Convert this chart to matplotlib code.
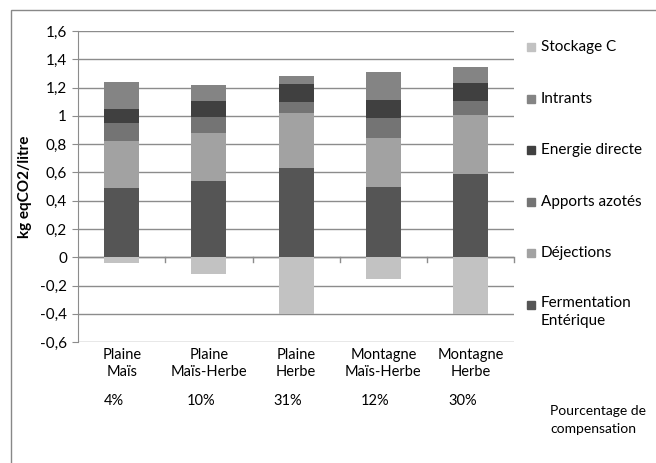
import matplotlib.pyplot as plt
import numpy as np
from matplotlib.patches import Rectangle
from matplotlib.ticker import FuncFormatter

plt.rcParams['font.family'] = ['Lato', 'DejaVu Sans']

categories = ['Plaine\nMaïs', 'Plaine\nMaïs-Herbe', 'Plaine\nHerbe', 'Montagne\nMaïs-Herbe', 'Montagne\nHerbe']
percentages = ['4%', '10%', '31%', '12%', '30%']

fermentation = [0.49, 0.54, 0.63, 0.50, 0.59]
dejections = [0.33, 0.34, 0.39, 0.345, 0.415]
apports = [0.13, 0.11, 0.08, 0.14, 0.10]
energie = [0.10, 0.115, 0.125, 0.13, 0.13]
intrants = [0.19, 0.115, 0.055, 0.195, 0.11]
stockage = [-0.04, -0.117, -0.40, -0.15, -0.40]

series = [
    ('Fermentation\nEntérique', fermentation, '#555555'),
    ('Déjections', dejections, '#a2a2a2'),
    ('Apports azotés', apports, '#747474'),
    ('Energie directe', energie, '#404040'),
    ('Intrants', intrants, '#848484'),
]
stock_color = '#c2c2c2'
FS = 11

W, H = 656, 463
fig = plt.figure(figsize=(W / 100, H / 100), dpi=100)
ax = fig.add_axes([0.119, 0.261, 0.665, 0.672])

x = np.arange(len(categories))
width = 0.4
bottom = np.zeros(len(categories))
for name, vals, col in series:
    ax.bar(x, vals, width, bottom=bottom, color=col, zorder=3)
    bottom += np.array(vals)
ax.bar(x, stockage, width, color=stock_color, zorder=3)

ax.set_xlim(-0.5, len(categories) - 0.5)
ax.set_ylim(-0.6, 1.6)
ax.set_yticks(np.arange(-0.6, 1.61, 0.2))
ax.yaxis.set_major_formatter(FuncFormatter(lambda v, p: ('%g' % round(v, 1)).replace('.', ',')))
ax.grid(axis='y', color='#8c8c8c', linewidth=1, zorder=0)
ax.tick_params(axis='y', length=4, color='#8c8c8c', labelsize=FS, pad=4)
ax.set_ylabel('kg eqCO2/litre', fontsize=FS, fontweight='bold', labelpad=6)

for s in ['top', 'right', 'bottom']:
    ax.spines[s].set_visible(False)
ax.spines['left'].set_color('#8c8c8c')

# category axis at zero, tick marks between categories
ax.axhline(0, color='#8c8c8c', linewidth=1, zorder=2)
ax.set_xticks([])
for b in np.arange(0.5, len(categories), 1):
    ax.plot([b, b], [0, -0.03], color='#8c8c8c', linewidth=1, zorder=2, clip_on=False)

def fy(py):
    return 1 - py / H

for i, (cat, pct) in enumerate(zip(categories, percentages)):
    xf = ax.transData.transform((i, 0))[0] / W
    fig.text(xf, fy(348), cat, ha='center', va='top', fontsize=10.5, linespacing=1.25)
    fig.text(xf - 8 / W, fy(401), pct, ha='center', va='center', fontsize=10.5)

fig.text(550 / W, fy(420), 'Pourcentage de\ncompensation', ha='left', va='center',
         fontsize=10, linespacing=1.6)

# legend, top to bottom
leg_items = [('Stockage C', stock_color)] + [(n, c) for n, v, c in reversed(series)]
for k, (name, col) in enumerate(leg_items):
    py = 47 + k * 51.6
    fig.patches.append(Rectangle((527 / W, fy(py + 4)), 8 / W, 8 / H, transform=fig.transFigure,
                                 color=col))
    if '\n' in name:
        fig.text(541 / W, fy(py - 9), name, ha='left', va='top', fontsize=FS, linespacing=1.4)
    else:
        fig.text(541 / W, fy(py), name, ha='left', va='center', fontsize=FS)

fig.patches.append(Rectangle((11 / W, -0.1), 1.2, 1 - 10 / H + 0.1, transform=fig.transFigure,
                             fill=False, edgecolor='#888888', linewidth=1, zorder=0))

fig.savefig('out.png', dpi=100)
